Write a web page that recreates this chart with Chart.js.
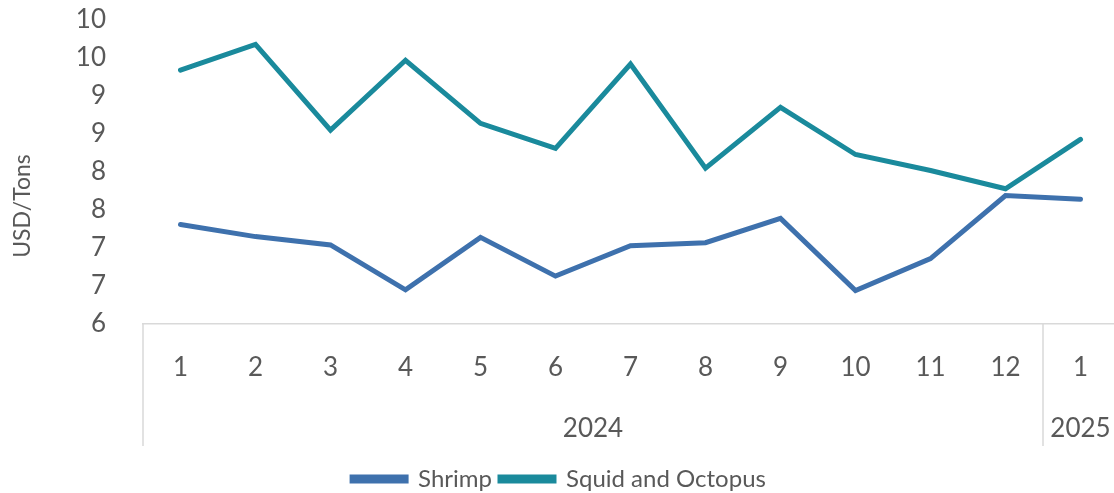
<!DOCTYPE html>
<html><head><meta charset="utf-8">
<script src="https://cdn.jsdelivr.net/npm/chart.js@4"></script>
<style>html,body{margin:0;padding:0;background:#fff;overflow:hidden}#wrap{width:1118px;height:493px;position:relative}</style>
</head><body><div id="wrap"><canvas id="c"></canvas></div>
<script>
const months = ['1','2','3','4','5','6','7','8','9','10','11','12','1'];
const yearGroups = [{label:'2024', start:0, end:11},{label:'2025', start:12, end:12}];
const shrimp = [7.31, 7.15, 7.04, 6.45, 7.14, 6.63, 7.03, 7.07, 7.39, 6.44, 6.86, 7.69, 7.64];
const squid  = [9.34, 9.68, 8.55, 9.47, 8.64, 8.31, 9.42, 8.05, 8.85, 8.23, 8.02, 7.78, 8.43];
const yMin = 6, yMax = 10, yStep = 0.5;
const yTitle = 'USD/Tons';

const FONT = 'Lato, "Open Sans", sans-serif';
const TXT = '#595959';
const GRID = '#d9d9d9';

const groupPlugin = {
  id: 'groupAxis',
  afterDraw(chart) {
    const ctx = chart.ctx, x = chart.scales.x, area = chart.chartArea;
    const top = area.bottom, bot = area.bottom + 122;
    ctx.save();
    ctx.strokeStyle = GRID; ctx.lineWidth = 1.5;
    const half = (x.getPixelForValue(1) - x.getPixelForValue(0)) / 2;
    ctx.beginPath();
    ctx.moveTo(x.left, top); ctx.lineTo(x.left, bot);
    yearGroups.forEach((g, i) => {
      if (i < yearGroups.length - 1) {
        const sx = x.getPixelForValue(g.end) + half;
        ctx.moveTo(sx, top); ctx.lineTo(sx, bot);
      }
    });
    ctx.stroke();
    ctx.fillStyle = TXT; ctx.font = '26px ' + FONT;
    ctx.textAlign = 'center'; ctx.textBaseline = 'middle';
    yearGroups.forEach(g => {
      const cx = (x.getPixelForValue(g.start) + x.getPixelForValue(g.end)) / 2;
      ctx.fillText(g.label, cx, top + 105);
    });
    // y-axis title
    ctx.save();
    ctx.translate(23, (area.top + area.bottom) / 2 + 34);
    ctx.rotate(-Math.PI / 2);
    ctx.font = '23px ' + FONT;
    ctx.fillText(yTitle, 0, 0);
    ctx.restore();
    ctx.restore();
  }
};

new Chart(document.getElementById('c'), {
  type: 'line',
  data: {
    labels: months,
    datasets: [
      {label: 'Shrimp', data: shrimp, borderColor: '#3e71ad', backgroundColor: '#3e71ad', borderWidth: 5, pointRadius: 0, tension: 0, borderCapStyle: 'round', borderJoinStyle: 'miter'},
      {label: 'Squid and Octopus', data: squid, borderColor: '#1a8a9c', backgroundColor: '#1a8a9c', borderWidth: 5, pointRadius: 0, tension: 0, borderCapStyle: 'round', borderJoinStyle: 'miter'}
    ]
  },
  options: {
    responsive: true, maintainAspectRatio: false, animation: false,
    layout: {autoPadding: false, padding: {top: 20, right: 0, bottom: -8, left: 0}},
    plugins: {
      tooltip: {enabled: false},
      legend: {
        position: 'bottom',
        labels: {boxWidth: 54, boxHeight: 4, color: TXT, font: {family: FONT, size: 24}, padding: 8}
      }
    },
    scales: {
      x: {
        offset: true,
        grid: {display: false, drawTicks: false},
        border: {display: true, color: GRID, width: 1.5},
        ticks: {color: TXT, font: {family: FONT, size: 26}, padding: 28, maxRotation: 0, autoSkip: false},
        afterFit(s) { s.height = 135; s.paddingLeft = 0; s.paddingRight = 0; }
      },
      y: {
        min: yMin, max: yMax,
        grid: {display: false, drawTicks: false},
        border: {display: false},
        ticks: {stepSize: yStep, color: TXT, font: {family: FONT, size: 26}, padding: 37, autoSkip: false,
          callback: v => String(Math.round(v))},
        title: {display: false, text: yTitle},
        afterFit(s) { s.width = 143; s.paddingTop = 0; s.paddingBottom = 0; }
      }
    }
  },
  plugins: [groupPlugin]
});
</script></body></html>
